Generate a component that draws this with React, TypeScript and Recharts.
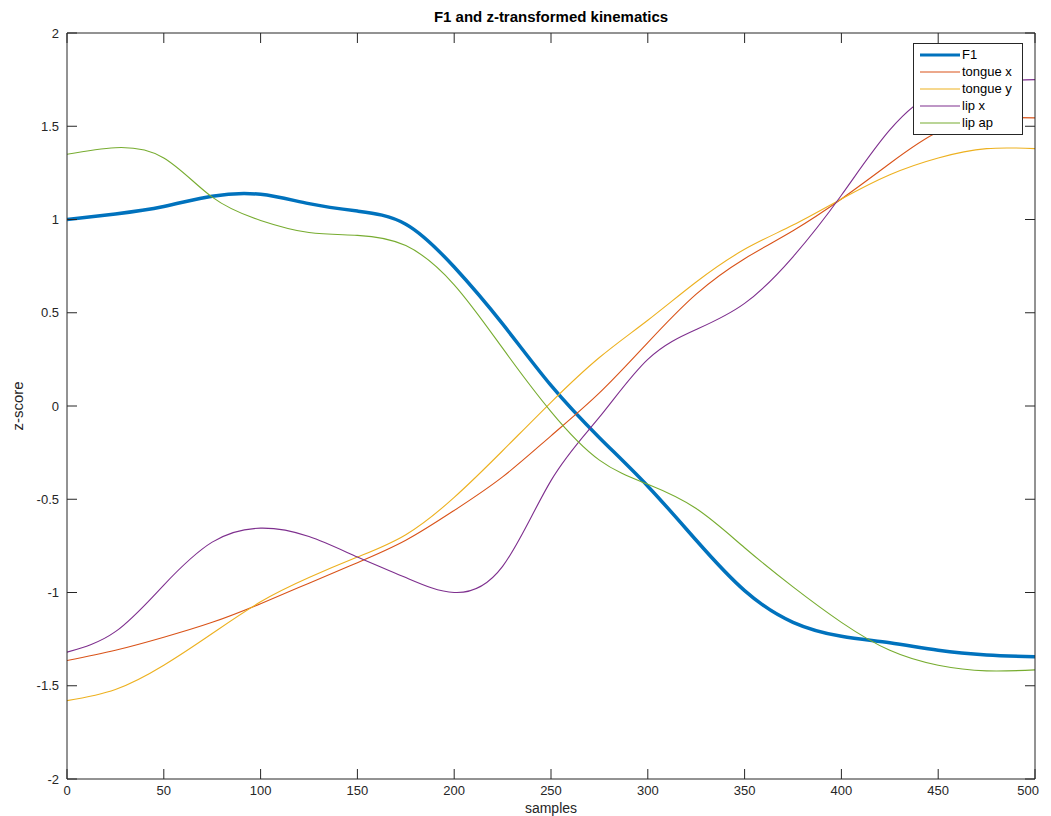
import React from 'react';
import { LineChart, Line, XAxis, YAxis, Label } from 'recharts';

const samples = [0, 25, 50, 75, 100, 125, 150, 175, 200, 225, 250, 275, 300, 325, 350, 375, 400, 425, 450, 475, 500];
const f1 = [1.0, 1.03, 1.07, 1.125, 1.135, 1.085, 1.045, 0.975, 0.745, 0.44, 0.11, -0.17, -0.43, -0.72, -0.99, -1.16, -1.235, -1.27, -1.31, -1.335, -1.345];
const tongueX = [-1.365, -1.31, -1.24, -1.16, -1.06, -0.95, -0.84, -0.72, -0.56, -0.38, -0.16, 0.07, 0.34, 0.6, 0.79, 0.94, 1.11, 1.3, 1.47, 1.54, 1.545];
const tongueY = [-1.58, -1.52, -1.39, -1.22, -1.05, -0.92, -0.81, -0.69, -0.49, -0.24, 0.02, 0.26, 0.46, 0.665, 0.84, 0.97, 1.11, 1.24, 1.33, 1.38, 1.38];
const lipX = [-1.32, -1.21, -0.96, -0.73, -0.655, -0.7, -0.81, -0.92, -1.0, -0.86, -0.4, -0.06, 0.25, 0.41, 0.55, 0.8, 1.13, 1.48, 1.69, 1.74, 1.75];
const lipAp = [1.35, 1.385, 1.33, 1.12, 0.995, 0.93, 0.915, 0.86, 0.65, 0.31, -0.03, -0.29, -0.42, -0.55, -0.76, -0.97, -1.16, -1.31, -1.39, -1.42, -1.415];

const xTicks = [0, 50, 100, 150, 200, 250, 300, 350, 400, 450, 500];
const yTicks = [-2, -1.5, -1, -0.5, 0, 0.5, 1, 1.5, 2];

const seriesNames = ['F1', 'tongue x', 'tongue y', 'lip x', 'lip ap'];
const seriesKeys = ['f1', 'tongueX', 'tongueY', 'lipX', 'lipAp'];
const colors = ['#0072BD', '#D95319', '#EDB120', '#7E2F8E', '#77AC30'];
const widths = [3.5, 1.1, 1.1, 1.1, 1.1];

const data = samples.map((s, i) => ({
  s,
  f1: f1[i],
  tongueX: tongueX[i],
  tongueY: tongueY[i],
  lipX: lipX[i],
  lipAp: lipAp[i],
}));

const FONT = '"Liberation Sans", Arial, Helvetica, sans-serif';
const AXIS = '#262626';
const W = 1035;
const H = 808;

const XTick = (props: any) => {
  const { x, y, payload, index } = props;
  const last = index === xTicks.length - 1;
  return (
    <text
      x={last ? x + 8 : x}
      y={y}
      dy={10}
      textAnchor={last ? 'end' : 'middle'}
      fill="#262626"
      fontSize={13}
      fontFamily={FONT}
    >
      {payload.value}
    </text>
  );
};

const NoTick = () => <g />;

const LegendBox = () => (
  <div
    style={{
      position: 'absolute',
      top: 35,
      left: 905,
      border: '1px solid #262626',
      background: '#fff',
      padding: '2px 10px 3px 6px',
      fontFamily: FONT,
      fontSize: 13,
      color: '#000',
      lineHeight: '17px',
    }}
  >
    {seriesNames.map((n, i) => (
      <div key={n} style={{ display: 'flex', alignItems: 'center' }}>
        <svg width={40} height={10} style={{ marginRight: 2 }}>
          <line x1={0} y1={5} x2={40} y2={5} stroke={colors[i]} strokeWidth={i === 0 ? 3 : 1.2} />
        </svg>
        <span>{n}</span>
      </div>
    ))}
  </div>
);

export default function App() {
  return (
    <div style={{ position: 'relative', width: W, height: H, background: '#fff' }}>
      <div
        style={{
          position: 'absolute',
          top: 0,
          left: 0,
          width: 1027 + 59,
          textAlign: 'center',
          fontFamily: FONT,
          fontWeight: 'bold',
          fontSize: 15,
          lineHeight: '18px',
          color: '#000',
          pointerEvents: 'none',
        }}
      >
        F1 and z-transformed kinematics
      </div>
      <LineChart width={W} height={H} data={data} margin={{ top: 24, right: 7, left: 29, bottom: 7 }}>
        <XAxis
          dataKey="s"
          type="number"
          domain={[0, 500]}
          ticks={xTicks}
          allowDataOverflow
          height={30}
          stroke={AXIS}
          tickSize={-10}
          tickMargin={16}
          tick={<XTick />}
        >
          <Label value="samples" position="insideBottom" offset={-4} style={{ fill: '#262626', fontSize: 14, fontFamily: FONT }} />
        </XAxis>
        <XAxis
          xAxisId="top"
          dataKey="s"
          type="number"
          orientation="top"
          domain={[0, 500]}
          ticks={xTicks}
          allowDataOverflow
          height={1}
          stroke={AXIS}
          tickSize={-10}
          tick={<NoTick />}
        />
        <YAxis
          type="number"
          domain={[-2, 2]}
          ticks={yTicks}
          allowDataOverflow
          width={30}
          stroke={AXIS}
          tickSize={-10}
          tickMargin={18}
          tick={{ fill: '#262626', fontSize: 13, fontFamily: FONT }}
        >
          <Label value="z-score" angle={-90} position="insideLeft" offset={-19} style={{ fill: '#262626', fontSize: 15, fontFamily: FONT, textAnchor: 'middle' }} />
        </YAxis>
        <YAxis
          yAxisId="right"
          orientation="right"
          type="number"
          domain={[-2, 2]}
          ticks={yTicks}
          allowDataOverflow
          width={1}
          stroke={AXIS}
          tickSize={-10}
          tick={<NoTick />}
        />
        <Line
          xAxisId="top"
          yAxisId="right"
          dataKey="f1"
          stroke="none"
          strokeWidth={0}
          dot={false}
          activeDot={false}
          legendType="none"
          isAnimationActive={false}
        />
        {seriesKeys.map((k, i) => (
          <Line
            key={k}
            dataKey={k}
            name={seriesNames[i]}
            type="natural"
            stroke={colors[i]}
            strokeWidth={widths[i]}
            dot={false}
            activeDot={false}
            isAnimationActive={false}
          />
        ))}
      </LineChart>
      <LegendBox />
    </div>
  );
}
